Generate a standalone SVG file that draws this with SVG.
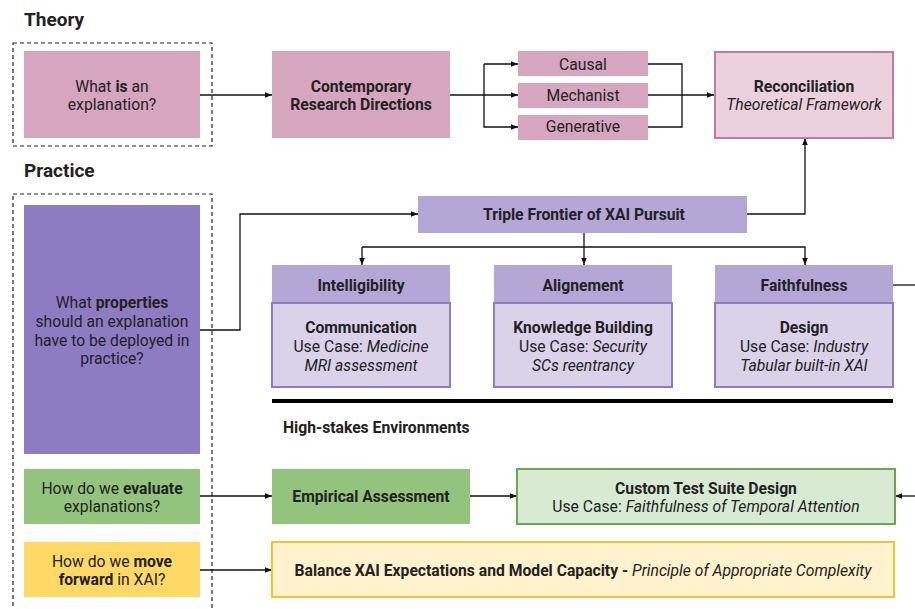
<svg xmlns="http://www.w3.org/2000/svg" width="915" height="609" viewBox="0 0 915 609">
<defs>
<marker id="ah" viewBox="0 0 10 10" refX="10" refY="5" markerWidth="7" markerHeight="7" orient="auto" markerUnits="userSpaceOnUse">
<path d="M0,1 L10,5 L0,9 z" fill="#111"/>
</marker>
<style>
text{font-family:Roboto,"Liberation Sans",sans-serif;font-size:15.7px;fill:#222;text-anchor:middle;dominant-baseline:central}
.b{font-weight:bold}
.i{font-style:italic}
.h{font-size:19px;font-weight:bold;text-anchor:start}
.dash{fill:none;stroke:#222;stroke-width:1.2;stroke-dasharray:4 3}
.c{fill:none;stroke:#111;stroke-width:1.3}
.ca{fill:none;stroke:#111;stroke-width:1.3;marker-end:url(#ah)}
.pink{fill:#d5a6bd}
.pinkL{fill:#ead1dc;stroke:#c27ba0;stroke-width:2}
.purD{fill:#8e7cc3}
.pur{fill:#b4a7d6}
.purL{fill:#d9d2e9;stroke:#8e7cc3;stroke-width:2}
.grn{fill:#93c47d}
.grnL{fill:#d9ead3;stroke:#6aa84f;stroke-width:2}
.yel{fill:#ffd966}
.yelL{fill:#fff2cc;stroke:#f1c232;stroke-width:2}
</style>
</defs>
<rect width="915" height="609" fill="#fff"/>

<text class="h" x="24" y="19">Theory</text>
<text class="h" x="24" y="170">Practice</text>
<rect class="dash" x="13" y="43" width="199" height="103"/>
<rect class="dash" x="13" y="194" width="199" height="420"/>

<g id="connectors">
<path class="ca" d="M200,95 H272"/>
<path class="c" d="M450,95 H484"/>
<path class="ca" d="M484,95 H518"/>
<path class="ca" d="M484,64 V127 H518"/>
<path class="ca" d="M484,64 H518"/>
<path class="c" d="M648,64 H682 V127 H648"/>
<path class="ca" d="M648,95 H714"/>
<path class="ca" d="M200,330 H240 V214 H418"/>
<path class="ca" d="M747,214 H805 V138"/>
<path class="ca" d="M584,233 V265"/>
<path class="ca" d="M362,247 H805 V265"/>
<path class="ca" d="M362,247 V265"/>
<path class="c" d="M893,285 H915"/>
<path class="ca" d="M200,496 H272"/>
<path class="ca" d="M470,496 H517"/>
<path class="ca" d="M915,496 H895"/>
<path class="ca" d="M200,570 H272"/>
<path d="M272,401 H893" stroke="#000" stroke-width="4"/>
</g>

<g id="q-explanation">
<rect class="pink" x="24" y="51" width="176" height="87"/>
<text x="112" y="86">What <tspan class="b">is</tspan> an</text>
<text x="112" y="104">explanation?</text>
</g>
<g id="contemporary">
<rect class="pink" x="272" y="51" width="178" height="87"/>
<text class="b" x="361" y="86">Contemporary</text>
<text class="b" x="361" y="104">Research Directions</text>
</g>
<g id="causal">
<rect class="pink" x="518" y="51" width="130" height="25"/>
<text x="583" y="64">Causal</text>
</g>
<g id="mechanist">
<rect class="pink" x="518" y="83" width="130" height="25"/>
<text x="583" y="95">Mechanist</text>
</g>
<g id="generative">
<rect class="pink" x="518" y="115" width="130" height="25"/>
<text x="583" y="126">Generative</text>
</g>
<g id="reconciliation">
<rect class="pinkL" x="715" y="52" width="178" height="86"/>
<text class="b" x="804" y="86">Reconciliation</text>
<text class="i" x="804" y="104">Theoretical Framework</text>
</g>

<g id="q-properties">
<rect class="purD" x="24" y="205" width="176" height="249"/>
<text x="112" y="302">What <tspan class="b">properties</tspan></text>
<text x="112" y="321">should an explanation</text>
<text x="112" y="340">have to be deployed in</text>
<text x="112" y="358">practice?</text>
</g>
<g id="triple-frontier">
<rect class="pur" x="418" y="196" width="329" height="37"/>
<text class="b" x="584" y="214">Triple Frontier of XAI Pursuit</text>
</g>

<g id="intelligibility">
<rect class="pur" x="272" y="265" width="178" height="38"/>
<text class="b" x="361" y="285">Intelligibility</text>
<rect class="purL" x="272" y="303" width="178" height="84"/>
<text class="b" x="361" y="327">Communication</text>
<text x="361" y="346">Use Case: <tspan class="i">Medicine</tspan></text>
<text class="i" x="361" y="365">MRI assessment</text>
</g>
<g id="alignement">
<rect class="pur" x="494" y="265" width="178" height="38"/>
<text class="b" x="583" y="285">Alignement</text>
<rect class="purL" x="494" y="303" width="178" height="84"/>
<text class="b" x="583" y="327">Knowledge Building</text>
<text x="583" y="346">Use Case: <tspan class="i">Security</tspan></text>
<text class="i" x="583" y="365">SCs reentrancy</text>
</g>
<g id="faithfulness">
<rect class="pur" x="715" y="265" width="178" height="38"/>
<text class="b" x="804" y="285">Faithfulness</text>
<rect class="purL" x="715" y="303" width="178" height="84"/>
<text class="b" x="804" y="327">Design</text>
<text x="804" y="346">Use Case: <tspan class="i">Industry</tspan></text>
<text class="i" x="804" y="365">Tabular built-in XAI</text>
</g>

<text class="b" x="283" y="427" style="text-anchor:start">High-stakes Environments</text>

<g id="q-evaluate">
<rect class="grn" x="24" y="469" width="176" height="55"/>
<text x="112" y="488">How do we <tspan class="b">evaluate</tspan></text>
<text x="112" y="506">explanations?</text>
</g>
<g id="empirical">
<rect class="grn" x="272" y="469" width="198" height="55"/>
<text class="b" x="371" y="496">Empirical Assessment</text>
</g>
<g id="custom-test">
<rect class="grnL" x="517" y="469" width="378" height="55"/>
<text class="b" x="706" y="488">Custom Test Suite Design</text>
<text x="706" y="506">Use Case: <tspan class="i">Faithfulness of Temporal Attention</tspan></text>
</g>

<g id="q-forward">
<rect class="yel" x="24" y="542" width="176" height="55"/>
<text x="112" y="561">How do we <tspan class="b">move</tspan></text>
<text x="112" y="579"><tspan class="b">forward</tspan> in XAI?</text>
</g>
<g id="balance">
<rect class="yelL" x="272" y="542" width="622" height="55"/>
<text x="583" y="570"><tspan class="b">Balance XAI Expectations and Model Capacity - </tspan><tspan class="i">Principle of Appropriate Complexity</tspan></text>
</g>
</svg>
